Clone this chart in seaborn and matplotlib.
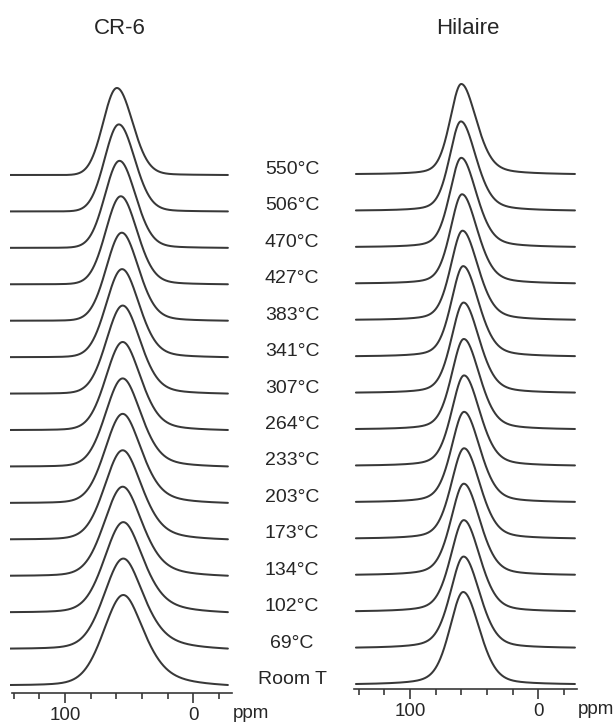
import numpy as np
import pandas as pd
import matplotlib
matplotlib.use("Agg")
import matplotlib.pyplot as plt
import seaborn as sns
from matplotlib.transforms import blended_transform_factory
from matplotlib.ticker import FixedLocator, NullFormatter, FixedFormatter

# Temperatures, bottom trace first
temps = ["Room T", "69°C", "102°C", "134°C", "173°C", "203°C", "233°C", "264°C",
         "307°C", "341°C", "383°C", "427°C", "470°C", "506°C", "550°C"]

# CR-6 line parameters (ppm), one value per temperature
cr6_center = [54.5, 54.5, 54.5, 55.0, 55.0, 55.0, 55.0, 55.0, 55.0, 55.5, 55.7, 56.5, 57.5, 58.0, 59.5]
cr6_hw_left = [18.3, 17.8, 17.4, 17.0, 16.6, 16.2, 15.8, 15.4, 15.0, 14.6, 14.2, 13.8, 13.4, 13.0, 12.6]
cr6_hw_right = [19.5, 19.0, 18.6, 18.2, 17.8, 17.4, 17.0, 16.6, 16.2, 15.8, 15.4, 15.1, 14.8, 14.6, 14.4]
cr6_eta_left = [0.25, 0.24, 0.22, 0.20, 0.18, 0.16, 0.14, 0.12, 0.10, 0.08, 0.06, 0.05, 0.04, 0.02, 0.0]
cr6_eta_right = [0.60, 0.56, 0.52, 0.48, 0.45, 0.42, 0.38, 0.34, 0.30, 0.26, 0.22, 0.18, 0.15, 0.12, 0.10]
cr6_height = [90, 90, 90, 89, 89, 89, 88, 88, 88, 88, 88, 88, 87, 87, 87]

# Hilaire line parameters (ppm)
hil_center = [58.5, 58.2, 58.0, 58.0, 57.8, 57.8, 57.8, 58.0, 58.2, 58.5, 59.0, 59.4, 60.0, 60.3, 60.0]
hil_hw_left = [12.6, 12.4, 12.3, 12.1, 12.0, 11.8, 11.6, 11.4, 11.3, 11.1, 11.0, 10.8, 10.7, 10.5, 10.4]
hil_hw_right = [15.0, 14.9, 14.8, 14.8, 14.7, 14.6, 14.5, 14.5, 14.4, 14.3, 14.3, 14.2, 14.1, 14.0, 14.0]
hil_eta_left = [0.40, 0.40, 0.38, 0.38, 0.36, 0.36, 0.35, 0.35, 0.34, 0.34, 0.33, 0.33, 0.32, 0.32, 0.30]
hil_eta_right = [0.30, 0.30, 0.31, 0.31, 0.32, 0.32, 0.33, 0.33, 0.33, 0.34, 0.34, 0.35, 0.35, 0.35, 0.35]
hil_height = [92, 91, 91, 91, 90, 90, 90, 90, 90, 90, 89, 89, 89, 89, 90]

major_ticks = [100, 0]
minor_ticks = [140, 120, 80, 60, 40, 20, -20]

sns.set_theme(style="white")
plt.rcParams["font.family"] = ["Liberation Sans", "DejaVu Sans"]

INK = "#383838"
TEXT = "#262626"
STEP = 36.43


def split_voigt(ppm, c, hl, hr, el, er):
    left = ppm >= c
    w = np.where(left, hl, hr)
    eta = np.where(left, el, er)
    u = ((ppm - c) / w) ** 2
    return (1 - eta) * np.power(2.0, -u) + eta / (1 + u)


def spectra_frame(ppm, centers, hwl, hwr, etl, etr, heights, base0):
    rows = []
    for i, name in enumerate(temps):
        y = split_voigt(ppm, centers[i], hwl[i], hwr[i], etl[i], etr[i])
        # flatten the baseline between the two ends of the window
        y = y - np.interp(ppm, [ppm[-1], ppm[0]], [y[-1], y[0]])
        y = y / y.max() * heights[i] + base0 + i * STEP
        rows.append(pd.DataFrame({"ppm": ppm, "y": y, "temp": name}))
    return pd.concat(rows, ignore_index=True)


fig = plt.figure(figsize=(6.15, 7.25), dpi=100)
W, H = 615.0, 725.0


def make_axes(x0, x1, spine_y, top_y):
    return fig.add_axes([x0 / W, (H - spine_y) / H, (x1 - x0) / W, (spine_y - top_y) / H])


ax_l = make_axes(9.8, 232.0, 693, 70)
ax_r = make_axes(354.0, 577.0, 689, 70)

panels = [
    (ax_l, np.linspace(142.8, -27.0, 800), (cr6_center, cr6_hw_left, cr6_hw_right,
                                             cr6_eta_left, cr6_eta_right, cr6_height),
     8.0, (143.0, -30.2), (141.3, -30.2), 693 - 70),
    (ax_r, np.linspace(142.2, -28.7, 800), (hil_center, hil_hw_left, hil_hw_right,
                                             hil_eta_left, hil_eta_right, hil_height),
     5.0, (143.7, -30.3), (143.7, -30.3), 689 - 70),
]

for ax, ppm, params, base0, xlim, bounds, ytop in panels:
    df = spectra_frame(ppm, *params, base0)
    sns.lineplot(data=df, x="ppm", y="y", units="temp", estimator=None, sort=False,
                 color=INK, linewidth=1.45, ax=ax, legend=False)
    ax.set_xlim(*xlim)
    ax.set_ylim(0, ytop)
    ax.set_xlabel("")
    ax.set_ylabel("")
    ax.set_yticks([])
    for s in ("left", "right", "top"):
        ax.spines[s].set_visible(False)
    ax.spines["bottom"].set_color(INK)
    ax.spines["bottom"].set_linewidth(1.2)
    ax.spines["bottom"].set_bounds(*bounds)
    ax.xaxis.set_major_locator(FixedLocator(major_ticks))
    ax.xaxis.set_major_formatter(FixedFormatter([str(t) for t in major_ticks]))
    ax.xaxis.set_minor_locator(FixedLocator(minor_ticks))
    ax.xaxis.set_minor_formatter(NullFormatter())
    ax.tick_params(axis="x", which="major", direction="out", length=7, width=1.2,
                   color=INK, labelsize=13.5, labelcolor=TEXT, pad=3, bottom=True)
    ax.tick_params(axis="x", which="minor", direction="out", length=4.5, width=1.2,
                   color=INK, bottom=True)
    ax.patch.set_alpha(0)

# unit labels beside each axis
fig.text(251 / W, 1 - 714 / H, "ppm", ha="center", va="center", fontsize=13.5, color=TEXT)
fig.text(596 / W, 1 - 710 / H, "ppm", ha="center", va="center", fontsize=13.5, color=TEXT)

# panel titles
fig.text(120 / W, 1 - 29 / H, "CR-6", ha="center", va="center", fontsize=16, color=TEXT)
fig.text(468 / W, 1 - 28 / H, "Hilaire", ha="center", va="center", fontsize=16, color=TEXT)

# temperature labels between the panels, aligned with the CR-6 traces
trans = blended_transform_factory(fig.transFigure, ax_l.transData)
for i, name in enumerate(temps):
    ax_l.text(292 / W, 8.0 + i * STEP + 1.0, name, transform=trans, ha="center",
              va="baseline", fontsize=14, color=TEXT, clip_on=False)

fig.savefig("out.png", dpi=100)
